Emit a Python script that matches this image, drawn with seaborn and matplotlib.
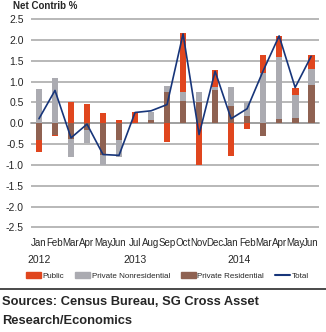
import numpy as np
import matplotlib
matplotlib.use("Agg")
import matplotlib.pyplot as plt
from matplotlib.patches import Patch
from matplotlib.lines import Line2D
import seaborn as sns

# Monthly net contribution to construction spending growth (%)
months = ["Jan", "Feb", "Mar", "Apr", "May", "Jun", "Jul", "Aug", "Sep",
          "Oct", "Nov", "Dec", "Jan", "Feb", "Mar", "Apr", "May", "Jun"]
years = {"2012": 0, "2013": 6, "2014": 12.5}
public = [-0.28, -0.03, 0.51, 0.46, 0.24, 0.08, 0.28, 0.00, -0.46,
          1.42, -1.00, 0.42, -0.78, -0.13, 0.41, 0.51, 0.19, 0.33]
private_nonres = [0.83, 1.08, -0.45, -0.32, -0.23, -0.41, 0.00, 0.18, 0.15,
                  0.23, 0.25, 0.08, 0.47, 0.34, 1.22, 1.49, 0.55, 0.38]
private_res = [-0.41, -0.27, -0.37, -0.15, -0.76, -0.41, 0.00, 0.08, 0.75,
               0.53, 0.51, 0.79, 0.41, 0.17, -0.30, 0.10, 0.12, 0.92]
total = [0.11, 0.79, -0.35, -0.02, -0.75, -0.77, 0.26, 0.30, 0.45,
         2.15, -0.27, 1.25, 0.11, 0.35, 1.26, 2.10, 0.86, 1.61]

c_public = "#E0461E"
c_nonres = "#ABABB1"
c_res = "#8F6252"
c_total = "#17357A"

sns.set_style("white")
narrow = ["Liberation Sans Narrow", "DejaVu Sans Condensed", "Liberation Sans"]
plt.rcParams["font.family"] = narrow

fig = plt.figure(figsize=(3.26, 3.32), dpi=100)
ax = fig.add_axes([0.095, 0.3027, 0.884, 0.6518])

x = np.arange(len(months))
pos = np.zeros(len(months))
neg = np.zeros(len(months))
for vals, col in [(private_res, c_res), (private_nonres, c_nonres), (public, c_public)]:
    v = np.asarray(vals)
    bottom = np.where(v >= 0, pos, neg)
    ax.bar(x, v, bottom=bottom, width=0.42, color=col, linewidth=0, zorder=3)
    pos = pos + np.where(v >= 0, v, 0)
    neg = neg + np.where(v < 0, v, 0)

sns.lineplot(x=x, y=total, ax=ax, color=c_total, linewidth=1.2, zorder=4)

ax.set_xlim(-0.5, len(months) - 0.5)
ax.set_ylim(-2.6, 2.6)
yt = np.arange(-2.5, 2.51, 0.5)
ax.set_yticks(yt)
ax.set_yticklabels([f"{v:.1f}" for v in yt], fontsize=7.5)
ax.tick_params(axis="y", length=0, pad=5)
ax.grid(axis="y", color="#A4A4A4", linewidth=1.1, zorder=0)
ax.grid(axis="x", visible=False)
for s in ["left", "right", "top"]:
    ax.spines[s].set_visible(False)
ax.spines["bottom"].set_position(("data", 0))
ax.spines["bottom"].set_color("#9A9A9A")
ax.spines["bottom"].set_linewidth(1.1)
ax.spines["bottom"].set_zorder(2)
ax.set_xticks([])
ax.set_xticks(np.arange(-0.5, len(months)), minor=True)
ax.tick_params(axis="x", which="minor", length=3, direction="out",
               color="#9A9A9A", width=0.8)
ax.set_xlabel("")
ax.set_ylabel("")

tr = ax.get_xaxis_transform()
for i, m in enumerate(months):
    ax.text(i, -0.053, m, transform=tr, ha="center", va="center", fontsize=7)
for yr, xpos in years.items():
    ax.text(xpos, -0.132, yr, transform=tr, ha="center", va="center", fontsize=7.5)

fig.text(13 / 326, 1 - 6 / 332, "Net Contrib %", ha="left", va="center",
         fontsize=7, fontweight="bold")

handles = [Patch(color=c_public), Patch(color=c_nonres), Patch(color=c_res),
           Line2D([], [], color=c_total, linewidth=1.5)]
labels = ["Public", "Private Nonresidential", "Private Residential", "Total"]
fig.legend(handles, labels, loc="center left", bbox_to_anchor=(26 / 326, 1 - 276 / 332),
           ncol=4, frameon=False, fontsize=5.8, handlelength=1.9,
           handleheight=0.7, handletextpad=0.15, columnspacing=1.35,
           borderaxespad=0, borderpad=0)

fig.add_artist(Line2D([0, 1], [1 - 289 / 332] * 2, color="#3A3A3A",
                      linewidth=1.3, transform=fig.transFigure))
fig.text(2 / 326, 1 - 302 / 332, "Sources: Census Bureau, SG Cross Asset",
         ha="left", va="center", fontsize=9.3, fontweight="bold",
         family=["Liberation Sans", "DejaVu Sans"])
fig.text(2 / 326, 1 - 321 / 332, "Research/Economics",
         ha="left", va="center", fontsize=9.3, fontweight="bold",
         family=["Liberation Sans", "DejaVu Sans"])

fig.savefig("out.png", dpi=100)
